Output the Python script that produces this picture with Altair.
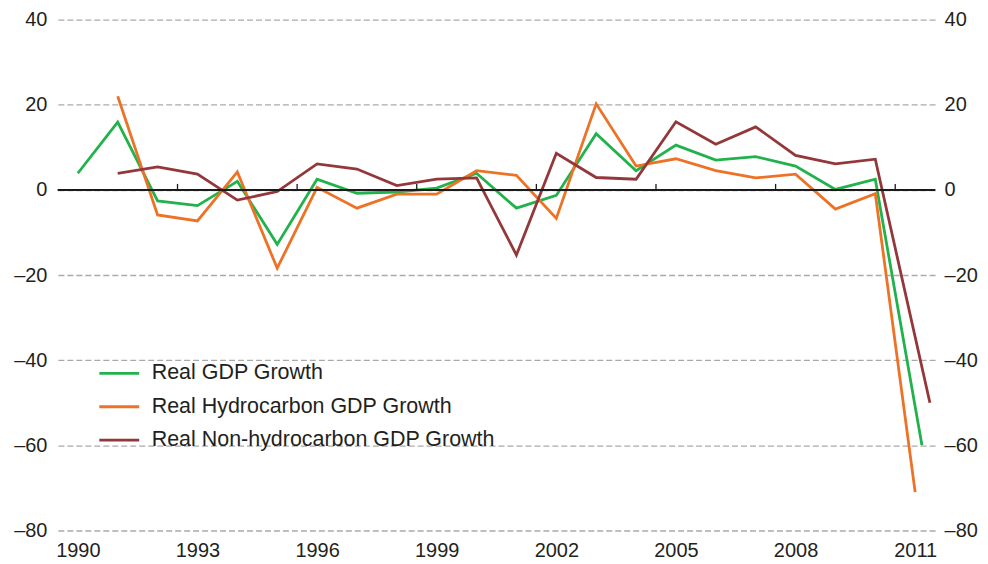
import altair as alt
import pandas as pd

# ---- data ----
series_names = ["Real GDP Growth", "Real Hydrocarbon GDP Growth", "Real Non-hydrocarbon GDP Growth"]
series_colors = ["#22b24c", "#ee7226", "#94373a"]

gdp_years = list(range(1990, 2011)) + [2011.17]
gdp_values = [3.9, 15.9, -2.6, -3.7, 2.0, -12.8, 2.5, -0.8, -0.5, 0.4, 3.9,
              -4.3, -1.3, 13.2, 4.5, 10.5, 7.0, 7.8, 5.6, 0.1, 2.5, -60.0]

hydro_years = list(range(1991, 2011)) + [2011.0]
hydro_values = [22.0, -5.9, -7.3, 4.2, -18.4, 0.6, -4.3, -1.0, -1.0, 4.5,
                3.4, -6.7, 20.2, 5.6, 7.3, 4.5, 2.8, 3.7, -4.5, -0.9, -71.0]

nonhydro_years = list(range(1991, 2011)) + [2011.37]
nonhydro_values = [3.9, 5.4, 3.7, -2.4, -0.4, 6.1, 4.9, 1.0, 2.5, 2.8,
                   -15.3, 8.6, 2.9, 2.5, 16.0, 10.7, 14.8, 8.1, 6.1, 7.2, -50.0]

x_labels = [1990, 1993, 1996, 1999, 2002, 2005, 2008, 2011]
y_ticks = [-80, -60, -40, -20, 0, 20, 40]
zero_tick_positions = [1992.5, 1995.5, 1998.5, 2001.5, 2004.5, 2007.5, 2010.5]

rows = []
for name, yrs, vals in [(series_names[0], gdp_years, gdp_values),
                        (series_names[1], hydro_years, hydro_values),
                        (series_names[2], nonhydro_years, nonhydro_values)]:
    for i, (yr, v) in enumerate(zip(yrs, vals)):
        rows.append({"series": name, "year": yr, "value": v, "order": i})
df = pd.DataFrame(rows)
ticks_df = pd.DataFrame({"year": zero_tick_positions})

FONT = "Liberation Sans"
TXT = "#231f20"

x_scale = alt.Scale(domain=[1989.5, 2011.5], nice=False, zero=False)
y_scale = alt.Scale(domain=[-80, 40], nice=False)
label_expr = "datum.value < 0 ? '\u2013' + abs(datum.value) : datum.label"

x_axis = alt.Axis(values=x_labels, format="d", title=None, domain=False,
                  ticks=False, grid=False, labelFontSize=20, labelFont=FONT,
                  labelColor=TXT, labelPadding=10)

lines = alt.Chart(df).mark_line(strokeWidth=2.8, strokeJoin="miter").encode(
    x=alt.X("year:Q", scale=x_scale, axis=x_axis),
    y=alt.Y("value:Q", scale=y_scale,
            axis=alt.Axis(values=y_ticks, title=None, orient="left", domain=False,
                          ticks=False, grid=True, gridDash=[6, 3], gridColor="#aaaaaa",
                          gridWidth=1.3, labelFontSize=20, labelFont=FONT, labelColor=TXT,
                          labelPadding=11, labelExpr=label_expr)),
    color=alt.Color("series:N",
                    scale=alt.Scale(domain=series_names, range=series_colors),
                    legend=alt.Legend(title=None, orient="none", legendX=40, legendY=333,
                                      symbolType="stroke", symbolSize=1600,
                                      symbolStrokeWidth=2.8, labelFontSize=21.5,
                                      labelFont=FONT, labelColor=TXT, labelOffset=11,
                                      labelLimit=0, rowPadding=1.5, padding=0)),
    order="order:Q",
)

right_axis = alt.Chart(df).mark_line(opacity=0).encode(
    x=alt.X("year:Q", scale=x_scale, axis=x_axis),
    y=alt.Y("value:Q", scale=y_scale,
            axis=alt.Axis(values=y_ticks, title=None, orient="right", domain=False,
                          ticks=False, grid=False, labelFontSize=20, labelFont=FONT,
                          labelColor=TXT, labelPadding=9, labelExpr=label_expr)),
    detail="series:N",
)

zero_line = alt.Chart(ticks_df).mark_rule(color="#1a1a1a", strokeWidth=1.3).encode(
    y=alt.Y(datum=0, scale=y_scale, axis=None),
)

zero_ticks = alt.Chart(ticks_df).mark_rule(color="#1a1a1a", strokeWidth=1.3).encode(
    x=alt.X("year:Q", scale=x_scale, axis=x_axis),
    y=alt.Y(datum=0, scale=y_scale, axis=None),
    y2=alt.Y2(datum=1.4),
)

chart = alt.layer(lines, zero_line, zero_ticks, right_axis).resolve_axis(
    y="independent"
).resolve_scale(y="shared").properties(
    width=879, height=512,
    background="white",
    autosize=alt.AutoSizeParams(type="none"),
    padding={"left": 50, "top": 11, "right": 45, "bottom": 32},
).configure_view(stroke=None)

chart.save("out.html", embed_options={"renderer": "svg", "actions": False})
